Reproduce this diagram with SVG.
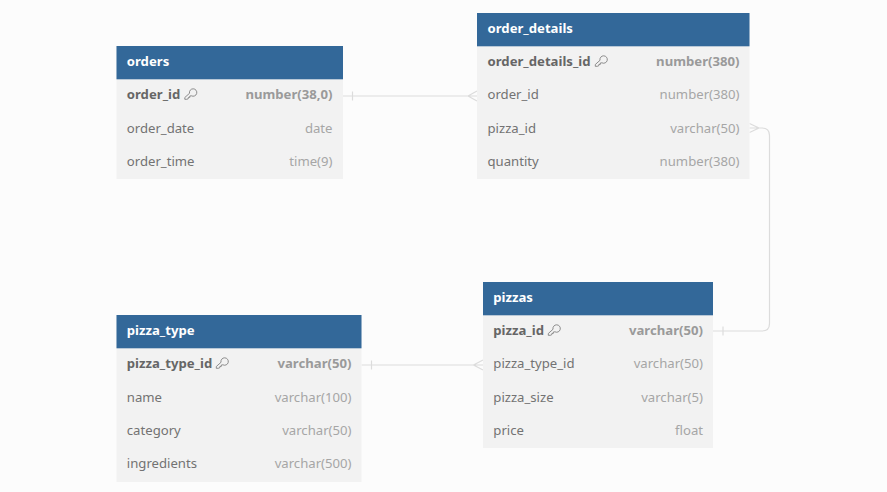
<svg xmlns="http://www.w3.org/2000/svg" width="887" height="492" viewBox="0 0 887 492">
<defs>
<g id="key"><path fill="none" stroke="#7a7a7a" stroke-width="0.85" stroke-linejoin="round" d="M0 -1.200 A3.700 3.700 0 1 1 1.900 1.300 L0.300 1.500 L0.300 2.900 L-1.100 2.900 L-1.300 4.300 L-2.800 4.800 L-4.700 4.800 L-4.700 3 Z"/></g>
</defs>
<style>
text{font-family:"Noto Sans","Open Sans",sans-serif;font-size:13.15px}
.h{fill:#336899}.b{fill:#f2f2f2}
.t{fill:#fff;font-weight:700}
.n{fill:#737373}.k{fill:#666;font-weight:700}
.y{fill:#a6a6a6;text-anchor:end}.yk{fill:#9a9a9a;font-weight:700;text-anchor:end}
.c{fill:none;stroke:#dcdcdc;stroke-width:1.2}
</style>
<rect width="887" height="492" fill="#fcfcfc"/>
<g id="connectors">
<path class="c" d="M343 96H477M352.500 91.500V100.500M477 91L468 96L477 101"/>
<path class="c" d="M749.500 128H762Q769.500 128 769.500 135.500V323.500Q769.500 331 762 331H713M723 326.500V335.500M749.500 123.500L759 128L749.500 132.500"/>
<path class="c" d="M361.500 365H483M371.500 360.500V369.500M483 360L473.500 365L483 370"/>
</g>
<g id="orders">
<rect class="b" x="116.500" y="46" width="226.500" height="133"/><rect class="h" x="116.500" y="46" width="226.500" height="33.300"/>
<text class="t" x="126.800" y="66">orders</text>
<text class="k" x="126.800" y="99">order_id</text><use href="#key" x="189.500" y="94.500"/><text class="yk" x="332.500" y="99">number(38,0)</text>
<text class="n" x="126.800" y="132.500">order_date</text><text class="y" x="332.500" y="132.500">date</text>
<text class="n" x="126.800" y="166">order_time</text><text class="y" x="332.500" y="166">time(9)</text>
</g>
<g id="order_details">
<rect class="b" x="477" y="13" width="272.500" height="166"/><rect class="h" x="477" y="13" width="272.500" height="33.300"/>
<text class="t" x="487.500" y="33">order_details</text>
<text class="k" x="487.500" y="66">order_details_id</text><use href="#key" x="600" y="61.500"/><text class="yk" x="739.500" y="66">number(380)</text>
<text class="n" x="487.500" y="99">order_id</text><text class="y" x="739.500" y="99">number(380)</text>
<text class="n" x="487.500" y="132.500">pizza_id</text><text class="y" x="739.500" y="132.500">varchar(50)</text>
<text class="n" x="487.500" y="166">quantity</text><text class="y" x="739.500" y="166">number(380)</text>
</g>
<g id="pizzas">
<rect class="b" x="483" y="282" width="230" height="166"/><rect class="h" x="483" y="282" width="230" height="33.300"/>
<text class="t" x="493.300" y="302">pizzas</text>
<text class="k" x="493.300" y="335">pizza_id</text><use href="#key" x="553" y="330.500"/><text class="yk" x="703" y="335">varchar(50)</text>
<text class="n" x="493.300" y="368">pizza_type_id</text><text class="y" x="703" y="368">varchar(50)</text>
<text class="n" x="493.300" y="401.500">pizza_size</text><text class="y" x="703" y="401.500">varchar(5)</text>
<text class="n" x="493.300" y="435">price</text><text class="y" x="703" y="435">float</text>
</g>
<g id="pizza_type">
<rect class="b" x="116.500" y="315" width="245" height="167"/><rect class="h" x="116.500" y="315" width="245" height="33.300"/>
<text class="t" x="126.800" y="335">pizza_type</text>
<text class="k" x="126.800" y="368">pizza_type_id</text><use href="#key" x="221" y="363.500"/><text class="yk" x="351.500" y="368">varchar(50)</text>
<text class="n" x="126.800" y="401.500">name</text><text class="y" x="351.500" y="401.500">varchar(100)</text>
<text class="n" x="126.800" y="435">category</text><text class="y" x="351.500" y="435">varchar(50)</text>
<text class="n" x="126.800" y="468">ingredients</text><text class="y" x="351.500" y="468">varchar(500)</text>
</g>
</svg>
